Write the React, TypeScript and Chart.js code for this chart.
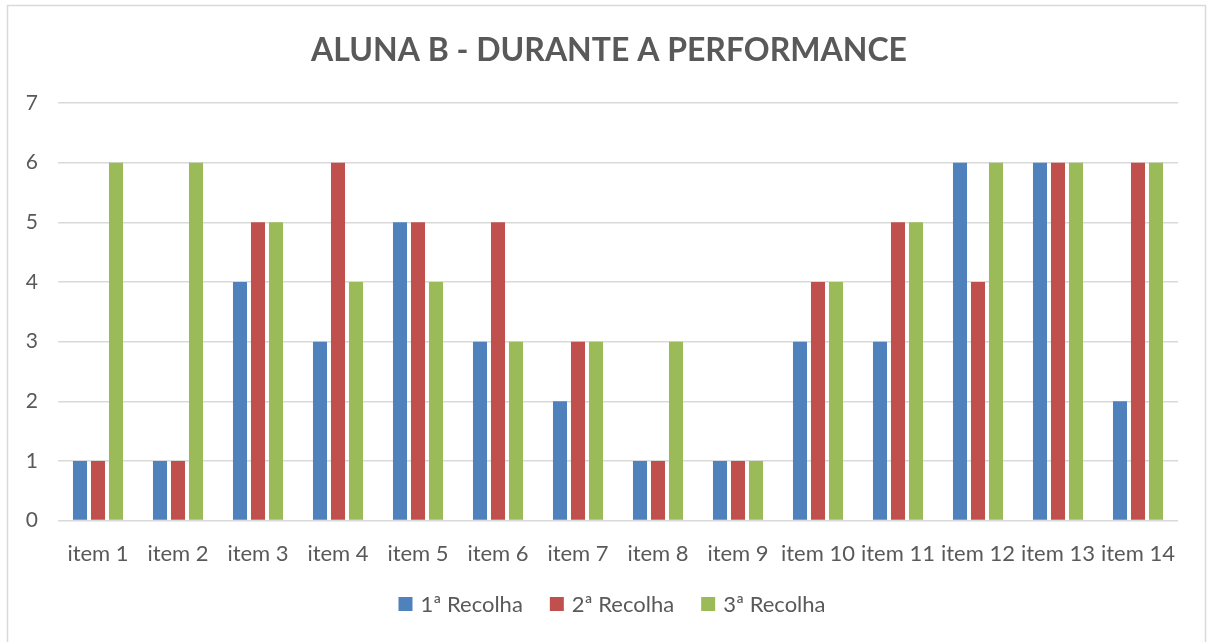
import React, { useEffect, useRef } from "react";
import { Chart, registerables } from "chart.js";

Chart.register(...registerables);

const categories = ["item 1", "item 2", "item 3", "item 4", "item 5", "item 6", "item 7", "item 8", "item 9", "item 10", "item 11", "item 12", "item 13", "item 14"];
const recolha1 = [1, 1, 4, 3, 5, 3, 2, 1, 1, 3, 3, 6, 6, 2];
const recolha2 = [1, 1, 5, 6, 5, 5, 3, 1, 1, 4, 5, 4, 6, 6];
const recolha3 = [6, 6, 5, 4, 4, 3, 3, 3, 1, 4, 5, 6, 6, 6];
const seriesNames = ["1ª Recolha", "2ª Recolha", "3ª Recolha"];
const titleText = "ALUNA B - DURANTE A PERFORMANCE";

const FONT = "Lato, 'Open Sans', sans-serif";
const TEXT = "#595959";

const borderPlugin = {
  id: "frame",
  beforeDraw(chart: any) {
    const ctx = chart.ctx;
    ctx.save();
    ctx.fillStyle = "#ffffff";
    ctx.fillRect(0, 0, chart.width, chart.height);
    ctx.strokeStyle = "#d9d9d9";
    ctx.lineWidth = 1.5;
    ctx.strokeRect(7.5, 5.5, 1198, 700);
    ctx.restore();
  },
};

const titlePlugin = {
  id: "centeredTitle",
  afterDraw(chart: any) {
    const ctx = chart.ctx;
    ctx.save();
    ctx.font = `bold 32px ${FONT}`;
    ctx.fillStyle = TEXT;
    ctx.textAlign = "center";
    ctx.textBaseline = "middle";
    ctx.fillText(titleText, 609, 51);
    ctx.restore();
  },
};

const legendPlugin = {
  id: "bottomLegend",
  afterDraw(chart: any) {
    const ctx = chart.ctx;
    ctx.save();
    ctx.font = `22px ${FONT}`;
    ctx.textBaseline = "middle";
    ctx.textAlign = "left";
    const box = 14;
    const gapText = 8;
    const gapItem = 27;
    const items = chart.data.datasets.map((d: any) => ({
      label: d.label as string,
      color: d.backgroundColor as string,
      w: ctx.measureText(d.label).width,
    }));
    const total = items.reduce((s: number, it: any) => s + box + gapText + it.w, 0) + gapItem * (items.length - 1);
    const cy = 604;
    let x = 612 - total / 2;
    for (const it of items) {
      ctx.fillStyle = it.color;
      ctx.fillRect(x, cy - box / 2, box, box);
      ctx.fillStyle = TEXT;
      ctx.fillText(it.label, x + box + gapText, cy + 1);
      x += box + gapText + it.w + gapItem;
    }
    ctx.restore();
  },
};

export default function App() {
  const ref = useRef<HTMLCanvasElement | null>(null);
  useEffect(() => {
    document.body.style.margin = "0";
    const chart = new Chart(ref.current as HTMLCanvasElement, {
      type: "bar",
      data: {
        labels: categories,
        datasets: [
          { label: seriesNames[0], data: recolha1, backgroundColor: "#4F81BD" },
          { label: seriesNames[1], data: recolha2, backgroundColor: "#C0504D" },
          { label: seriesNames[2], data: recolha3, backgroundColor: "#9BBB59" },
        ],
      },
      options: {
        animation: false,
        responsive: false,
        layout: { padding: { left: 0, right: 29, top: 103, bottom: 55 } },
        datasets: { bar: { categoryPercentage: 0.675, barPercentage: 0.78 } } as any,
        plugins: {
          title: { display: false },
          legend: { display: false },
          tooltip: { enabled: false },
        },
        scales: {
          x: {
            grid: { display: false, drawTicks: false },
            border: { display: false },
            ticks: { color: TEXT, font: { family: FONT, size: 22 }, padding: 20, maxRotation: 0, autoSkip: false },
          },
          y: {
            min: 0,
            max: 7,
            grid: { color: "#d9d9d9", lineWidth: 1.5, drawTicks: false },
            border: { display: false },
            ticks: { stepSize: 1, color: TEXT, font: { family: FONT, size: 21 }, padding: 20 },
            afterFit(scale: any) {
              scale.width = 58;
            },
          },
        },
      },
      plugins: [borderPlugin, titlePlugin, legendPlugin],
    });
    return () => chart.destroy();
  }, []);
  return <canvas ref={ref} width={1207} height={642} style={{ display: "block" }} />;
}
